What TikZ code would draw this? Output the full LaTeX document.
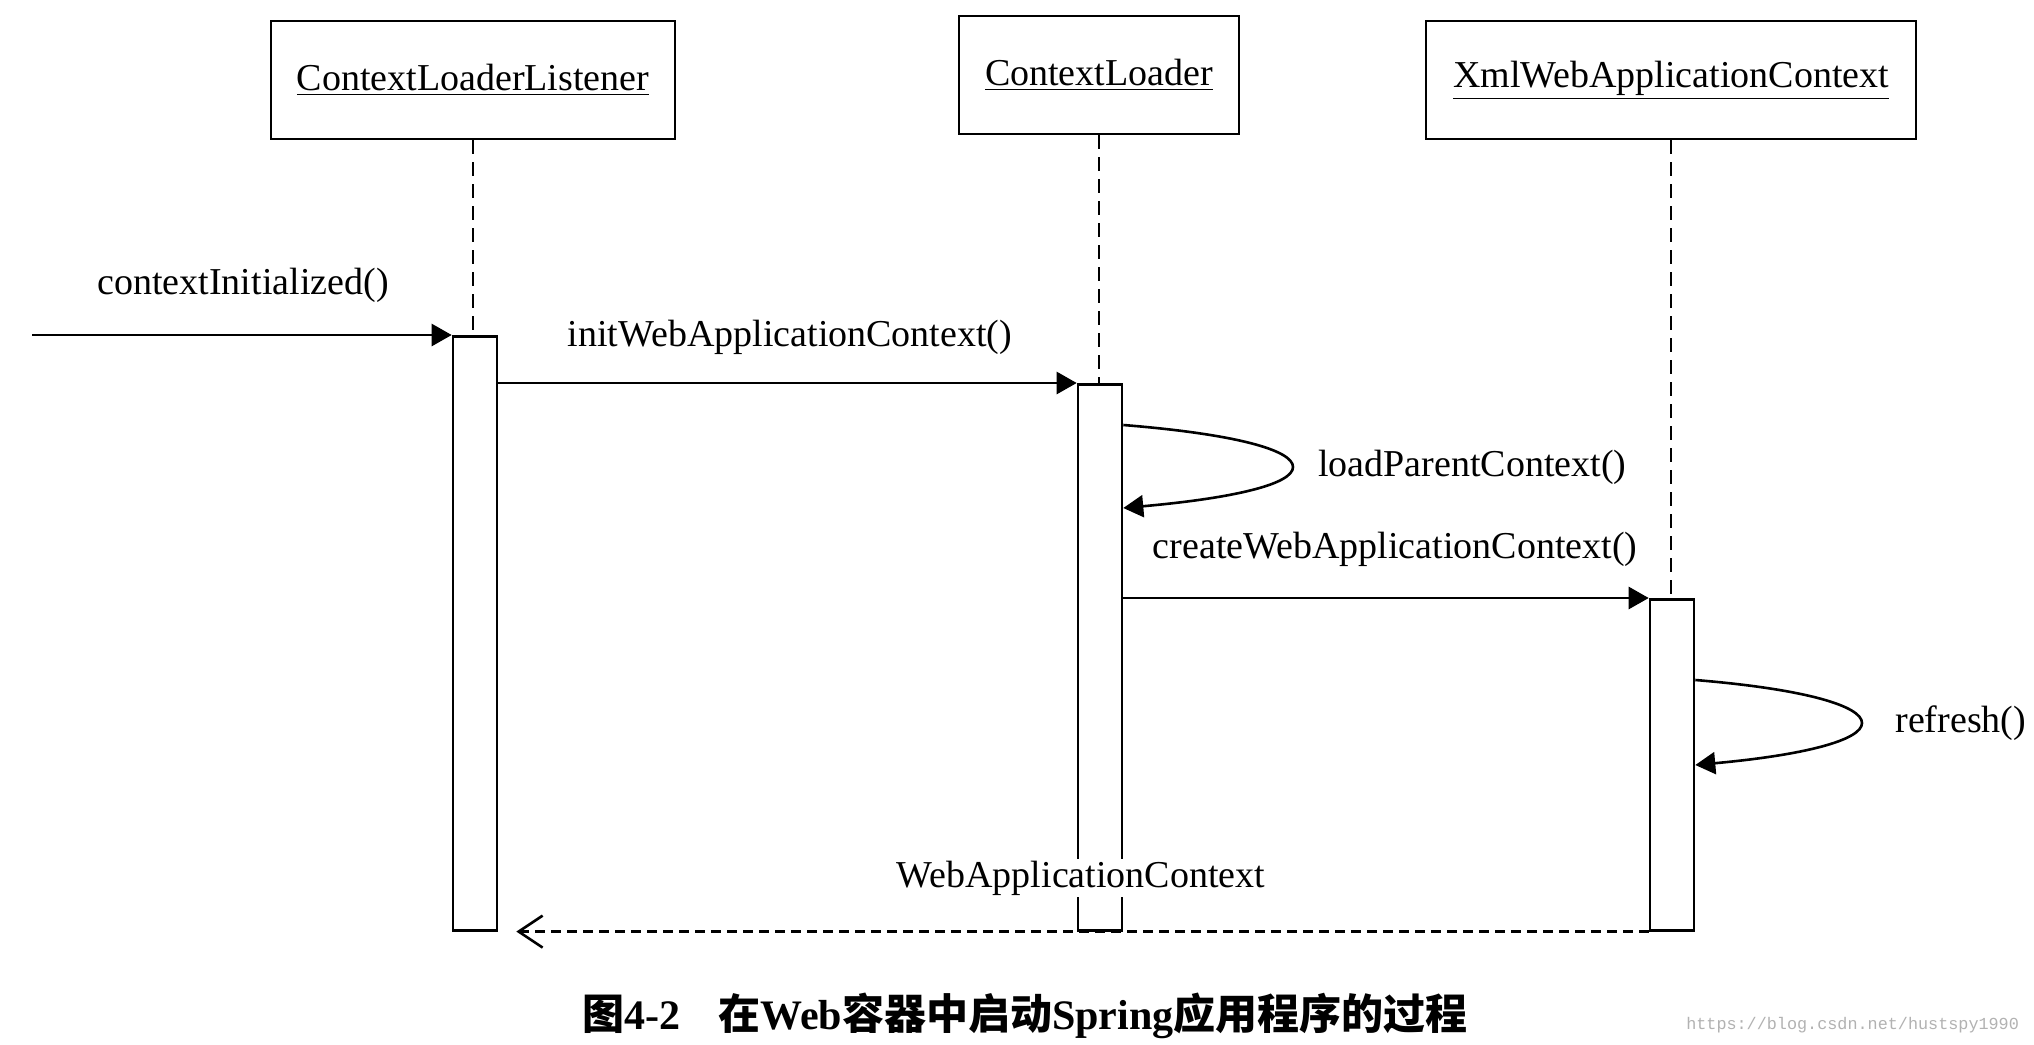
\documentclass[tikz,border=0pt]{standalone}
\usepackage{fontspec}
\setmainfont{Liberation Serif}
\newfontfamily\cjk{Noto Sans CJK SC}
\newfontfamily\urlfont{Liberation Mono}
\usetikzlibrary{arrows.meta,calc}
\newcommand{\cjkb}[1]{{\cjk\bfseries #1}}

\tikzset{
  objbox/.style={draw, line width=1.3pt, minimum height=59pt, inner sep=0pt,
    font=\fontsize{19}{22}\selectfont},
  actbar/.style={draw, fill=white, line width=1.3pt, minimum width=22pt,
    anchor=north, inner sep=0pt},
  lifeline/.style={line width=1.1pt, dash pattern=on 7pt off 4pt},
  msg/.style={line width=1.3pt, -{Triangle[length=10pt,width=11pt]}},
  reply/.style={line width=1.3pt, dash pattern=on 5pt off 3pt,
    -{Straight Barb[length=12pt,width=16pt,line width=1.3pt]}},
  lbl/.style={font=\fontsize{19}{22}\selectfont, inner sep=1pt},
}

\begin{document}
\begin{tikzpicture}[x=0.5pt,y=-0.5pt]
  \useasboundingbox[fill=white] (0,0) rectangle (2034,1044);

  %%%%% objects %%%%%
  \node[objbox, minimum width=202pt] (listener) at (473,80) {\underline{ContextLoaderListener}};
  \node[objbox, minimum width=140pt] (loader) at (1099,75) {\underline{ContextLoader}};
  \node[objbox, minimum width=245pt] (xmlctx) at (1671,80) {\underline{XmlWebApplicationContext}};

  %%%%% lifelines %%%%%
  \draw[lifeline] (listener.south) -- ++(0,420);
  \draw[lifeline] (loader.south) -- ++(0,420);
  \draw[lifeline] (xmlctx.south) -- ++(0,620);

  %%%%% activations %%%%%
  \node[actbar, minimum height=297pt] (bar1) at (475,335) {};
  \node[actbar, minimum height=273pt] (bar2) at (1100,383) {};
  \node[actbar, minimum height=165.5pt] (bar3) at (1672,598) {};

  %%%%% messages %%%%%
  \coordinate (start) at (32,335);
  \draw[msg] (start) -- (bar1.north west);
  \node[lbl] (lblinit) at (243,285) {contextInitialized()};

  \draw[msg] (bar1.east |- bar2.north) -- (bar2.north west);
  \node[lbl] (lblweb) at (790,337) {initWebApplicationContext()};

  \draw[msg] ($(bar2.north east)+(0,42)$)
    .. controls (1235,434) and (1293,450) .. (1293,467)
    .. controls (1293,484) and (1235,498) .. ($(bar2.north east)+(0,125)$);
  \node[lbl, anchor=west] (lblparent) at (1316,467) {loadParentContext()};

  \draw[msg] (bar2.east |- bar3.north) -- (bar3.north west);
  \node[lbl] (lblcreate) at (1395,549) {createWebApplicationContext()};

  \draw[msg] ($(bar3.north east)+(0,82)$)
    .. controls (1805,689) and (1862,706) .. (1862,723)
    .. controls (1862,740) and (1805,755) .. ($(bar3.north east)+(0,167)$);
  \node[lbl, anchor=west] (lblrefresh) at (1893,723) {refresh()};

  \draw[reply, shorten >=9pt] (bar3.south west) -- (bar1.south east);
  \node[lbl, fill=white] (lblreturn) at (1081,878) {WebApplicationContext};

  %%%%% caption %%%%%
  \node[font=\fontsize{21}{24}\selectfont] (caption) at (1025,1016)
    {\cjkb{图}\textbf{4-2}\hspace{0.9em}\cjkb{在}\textbf{Web}\cjkb{容器中启动}\textbf{Spring}\cjkb{应用程序的过程}};
  \node[anchor=east, text=black!30, font=\urlfont\fontsize{8.4}{10}\selectfont] (wmark) at (2026,1025)
    {https://blog.csdn.net/hustspy1990};
\end{tikzpicture}
\end{document}
